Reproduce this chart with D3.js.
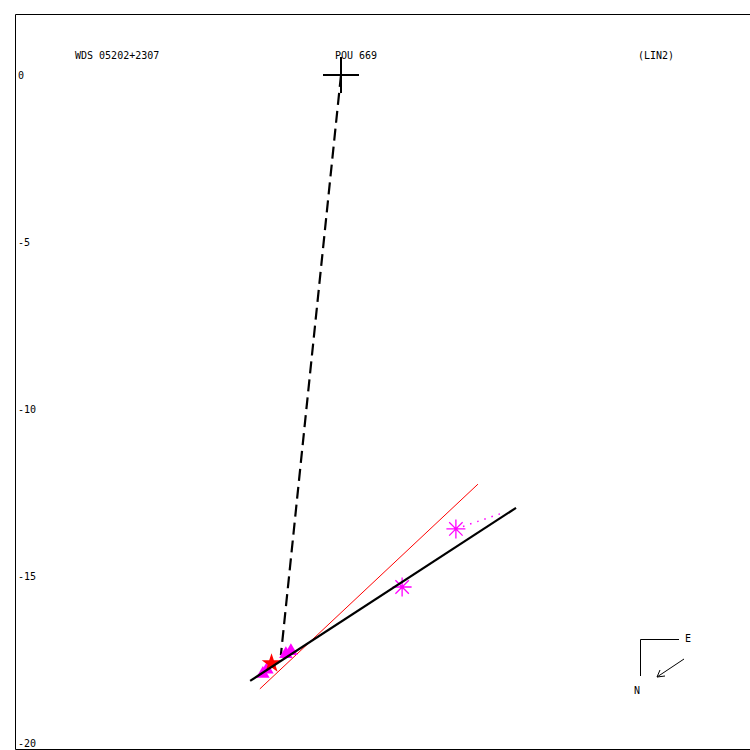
<!DOCTYPE html>
<html lang="en">
<head>
<meta charset="UTF-8">
<title>WDS 05202+2307 POU 669</title>
<script src="https://d3js.org/d3.v7.min.js"></script>
<style>
  html, body { margin: 0; padding: 0; background: #fff; }
  svg { display: block; }
  text { font-family: "DejaVu Sans Mono", monospace; font-size: 10px; fill: #000; }
</style>
</head>
<body>
<svg id="chart" width="750" height="750"></svg>
<script>
// Labels
const titleLeft = "WDS 05202+2307";
const titleMid = "POU 669";
const titleRight = "(LIN2)";
const yTicks = [0, -5, -10, -15, -20];

// Data (plot units)
const primary = [0, 0];
const periastron = [-1.80, -17.37];        // end of dashed line
const orbitLine = [[-2.72, -18.14], [5.24, -12.96]];   // thick black
const redLine = [[-2.43, -18.38], [4.10, -12.25]];     // thin red
const asterisks = [[1.83, -15.33], [3.44, -13.59]];
const residual = [[3.44, -13.59], [4.76, -13.14]];     // dotted magenta
const clusterPts = [[-2.34, -17.93], [-2.22, -17.80], [-1.65, -17.34], [-1.50, -17.25]];
const redStar = [-2.08, -17.62];

const x = d3.scaleLinear().domain([0, 10]).range([341, 675]);
const y = d3.scaleLinear().domain([0, -20]).range([75, 743]);

const svg = d3.select('#chart');

// Frame (right edge runs off the page)
svg.append('path')
  .attr('d', 'M760,14.5 H15.5 V749.5 H760')
  .attr('fill', 'none').attr('stroke', '#000').attr('stroke-width', 1);

// y tick labels
svg.selectAll('.ytick').data(yTicks).enter().append('text')
  .attr('class', 'ytick')
  .attr('x', 18).attr('y', d => y(d) + 4)
  .text(d => d === 0 ? '0' : '-' + Math.abs(d));

// titles
svg.append('text').attr('x', 75).attr('y', 59).text(titleLeft);
svg.append('text').attr('x', 335).attr('y', 59).text(titleMid);
svg.append('text').attr('x', 638).attr('y', 59).text(titleRight);

const line = d3.line().x(d => x(d[0])).y(d => y(d[1]));

// red line
svg.append('path').attr('d', line(redLine))
  .attr('stroke', '#ff0000').attr('stroke-width', 1).attr('fill', 'none');

// dashed line primary -> periastron
svg.append('path').attr('d', line([primary, periastron]))
  .attr('stroke', '#000').attr('stroke-width', 2.2).attr('fill', 'none')
  .attr('stroke-dasharray', '12,6');

// primary cross
const cx = x(primary[0]), cy = y(primary[1]);
svg.append('path')
  .attr('d', `M${cx - 18},${cy} H${cx + 18} M${cx},${cy - 18} V${cy + 18}`)
  .attr('stroke', '#000').attr('stroke-width', 2).attr('fill', 'none');

// residual dotted
svg.append('path').attr('d', line(residual))
  .attr('stroke', '#ff00ff').attr('stroke-width', 1.5).attr('fill', 'none')
  .attr('stroke-dasharray', '1.5,6');

// asterisks
function asteriskPath(px, py, r) {
  let s = '';
  for (let k = 0; k < 8; k++) {
    const a = k * Math.PI / 4;
    s += `M${px},${py} L${px + r * Math.cos(a)},${py + r * Math.sin(a)} `;
  }
  return s;
}
svg.selectAll('.ast').data(asterisks).enter().append('path')
  .attr('class', 'ast')
  .attr('d', d => asteriskPath(x(d[0]), y(d[1]), 9.5))
  .attr('stroke', '#ff00ff').attr('stroke-width', 1.3).attr('fill', 'none');

// cluster of filled markers
const tri = d3.symbol().type(d3.symbolTriangle).size(80);
svg.selectAll('.cl').data(clusterPts).enter().append('path')
  .attr('class', 'cl')
  .attr('transform', d => `translate(${x(d[0])},${y(d[1])})`)
  .attr('d', tri)
  .attr('fill', '#ff00ff');

svg.append('path')
  .attr('transform', `translate(${x(redStar[0])},${y(redStar[1])})`)
  .attr('d', d3.symbol().type(d3.symbolStar).size(120))
  .attr('fill', '#ff0000');

// orbit line over the cluster
svg.append('path').attr('d', line(orbitLine))
  .attr('stroke', '#000').attr('stroke-width', 2.2).attr('fill', 'none');

// compass
svg.append('path').attr('d', 'M679,639.5 H640.5 V676')
  .attr('stroke', '#000').attr('stroke-width', 1).attr('fill', 'none');
svg.append('text').attr('x', 685).attr('y', 642).text('E');
svg.append('text').attr('x', 634).attr('y', 694).text('N');
svg.append('path').attr('d', 'M684,659 L657,677 M657,677 L665,676 M657,677 L660,670')
  .attr('stroke', '#000').attr('stroke-width', 1).attr('fill', 'none');
</script>
</body>
</html>
